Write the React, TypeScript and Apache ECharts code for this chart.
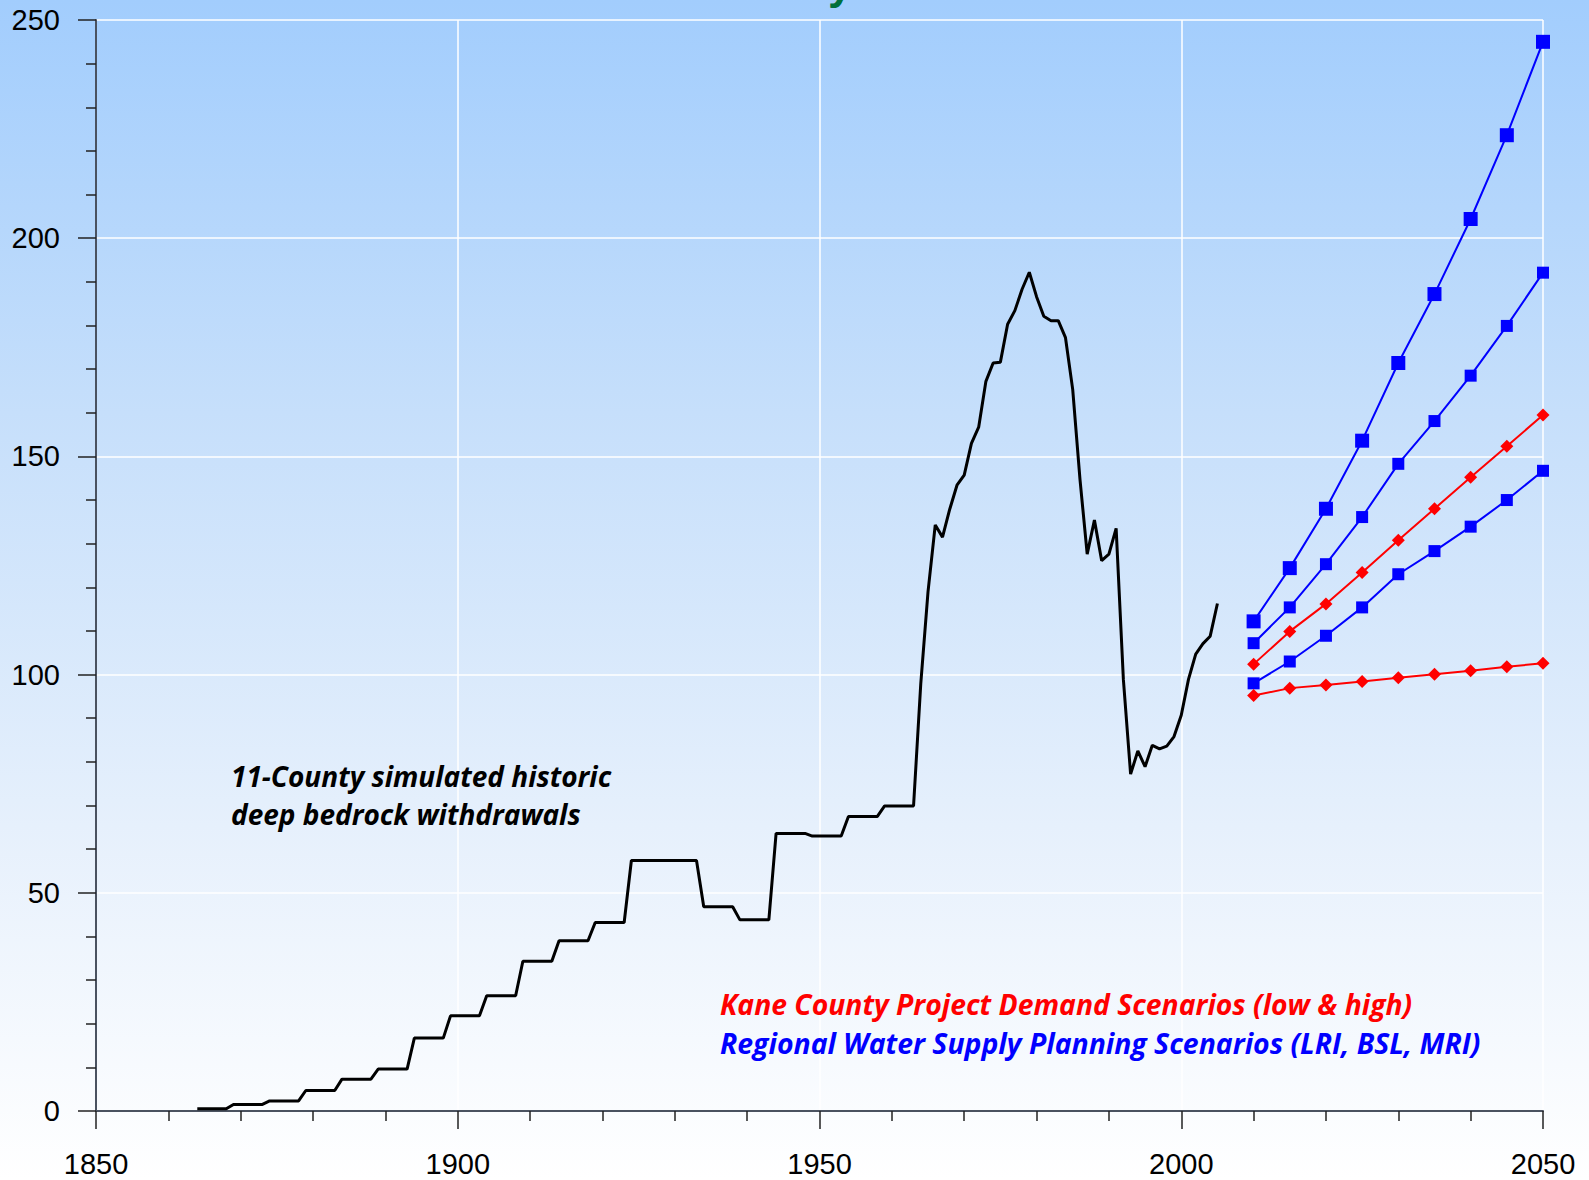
import React, { useEffect, useRef } from "react";
import * as echarts from "echarts";

// ---------- data ----------
const historicYears: number[] = [
  1864, 1865, 1866, 1867, 1868, 1869, 1870, 1871, 1872, 1873,
  1874, 1875, 1876, 1877, 1878, 1879, 1880, 1881, 1882, 1883,
  1884, 1885, 1886, 1887, 1888, 1889, 1890, 1891, 1892, 1893,
  1894, 1895, 1896, 1897, 1898, 1899, 1900, 1901, 1902, 1903,
  1904, 1905, 1906, 1907, 1908, 1909, 1910, 1911, 1912, 1913,
  1914, 1915, 1916, 1917, 1918, 1919, 1920, 1921, 1922, 1923,
  1924, 1925, 1926, 1927, 1928, 1929, 1930, 1931, 1932, 1933,
  1934, 1935, 1936, 1937, 1938, 1939, 1940, 1941, 1942, 1943,
  1944, 1945, 1946, 1947, 1948, 1949, 1950, 1951, 1952, 1953,
  1954, 1955, 1956, 1957, 1958, 1959, 1960, 1961, 1962, 1963,
  1964, 1965, 1966, 1967, 1968, 1969, 1970, 1971, 1972, 1973,
  1974, 1975, 1976, 1977, 1978, 1979, 1980, 1981, 1982, 1983,
  1984, 1985, 1986, 1987, 1988, 1989, 1990, 1991, 1992, 1993,
  1994, 1995, 1996, 1997, 1998, 1999, 2000, 2001, 2002, 2003,
  2004, 2005,
];
const historicValues: number[] = [
  0.5, 0.5, 0.5, 0.5, 0.5, 1.5, 1.5, 1.5, 1.5, 1.5,
  2.3, 2.3, 2.3, 2.3, 2.3, 4.7, 4.7, 4.7, 4.7, 4.7,
  7.3, 7.3, 7.3, 7.3, 7.3, 9.6, 9.6, 9.6, 9.6, 9.6,
  16.7, 16.7, 16.7, 16.7, 16.7, 21.8, 21.8, 21.8, 21.8, 21.8,
  26.4, 26.4, 26.4, 26.4, 26.4, 34.3, 34.3, 34.3, 34.3, 34.3,
  39.0, 39.0, 39.0, 39.0, 39.0, 43.2, 43.2, 43.2, 43.2, 43.2,
  57.4, 57.4, 57.4, 57.4, 57.4, 57.4, 57.4, 57.4, 57.4, 57.4,
  46.8, 46.8, 46.8, 46.8, 46.8, 43.8, 43.8, 43.8, 43.8, 43.8,
  63.6, 63.6, 63.6, 63.6, 63.6, 63.0, 63.0, 63.0, 63.0, 63.0,
  67.5, 67.5, 67.5, 67.5, 67.5, 69.9, 69.9, 69.9, 69.9, 69.9,
  98.0, 119.0, 134.3, 131.5, 137.9, 143.4, 145.7, 153.0, 156.7, 167.2,
  171.4, 171.6, 180.3, 183.4, 188.3, 192.2, 186.6, 182.1, 181.1, 181.1,
  177.2, 165.3, 144.8, 127.6, 135.4, 126.1, 127.6, 133.5, 98.9, 77.2,
  82.5, 78.9, 83.8, 83.0, 83.6, 85.8, 90.7, 98.9, 104.7, 107.1,
  108.8, 116.3,
];

const projectionYears: number[] = [2010, 2015, 2020, 2025, 2030, 2035, 2040, 2045, 2050];
const rwspMRI: number[] = [112.2, 124.4, 138.0, 153.6, 171.4, 187.2, 204.4, 223.6, 245.0];
const rwspBSL: number[] = [107.2, 115.4, 125.3, 136.1, 148.3, 158.1, 168.5, 179.9, 192.1];
const rwspLRI: number[] = [98.0, 103.0, 108.9, 115.4, 123.0, 128.3, 133.9, 140.0, 146.7];
const kaneHigh: number[] = [102.4, 109.9, 116.2, 123.4, 130.8, 138.0, 145.2, 152.3, 159.5];
const kaneLow: number[] = [95.2, 96.9, 97.6, 98.4, 99.3, 100.1, 100.9, 101.8, 102.6];

const xTickMin = 1850;
const xTickMax = 2050;
const yTickMin = 0;
const yTickMax = 250;

const historicLabel = ["11-County simulated historic", "deep bedrock withdrawals"];
const kaneLabel = "Kane County Project Demand Scenarios (low & high)";
const rwspLabel = "Regional Water Supply Planning Scenarios (LRI, BSL, MRI)";

// ---------- chart ----------
const pairs = (xs: number[], ys: number[]) => xs.map((x, i) => [x, ys[i]]);

const BLUE = "#0000FF";
const RED = "#FF0000";
const AXIS_FONT = '"Liberation Sans", Arial, sans-serif';
const NOTE_FONT = '"Open Sans", Lato, sans-serif';

export default function App() {
  const ref = useRef<HTMLDivElement>(null);

  useEffect(() => {
    document.body.style.margin = "0";
    if (!ref.current) return;
    const chart = echarts.init(ref.current, null, { renderer: "svg" });

    const axisCommon = {
      type: "value" as const,
      interval: 50,
      axisLine: { show: true, onZero: false, lineStyle: { color: "#4a5260", width: 2 } },
      axisTick: { show: true, inside: false, length: 18, lineStyle: { color: "#222", width: 1.5 } },
      minorTick: { show: true, splitNumber: 5, length: 10, lineStyle: { color: "#222", width: 1.5 } },
      splitLine: { show: true, lineStyle: { color: "#ffffff", width: 1.5 } },
      minorSplitLine: { show: false },
      axisLabel: {
        color: "#000",
        fontSize: 29,
        fontFamily: AXIS_FONT,
        formatter: (v: number) => String(v),
      },
    };

    const projSeries = (name: string, data: number[], color: string, symbol: string, size: number) => ({
      name,
      type: "line",
      data: pairs(projectionYears, data),
      symbol,
      symbolSize: size,
      showSymbol: true,
      lineStyle: { color, width: 2 },
      itemStyle: { color, borderWidth: 0 },
      z: 5,
    });

    const note = (text: string, x: number, y: number, fill: string, size: number) => ({
      type: "text",
      x,
      y,
      z: 100,
      style: {
        text,
        font: `italic bold ${size}px ${NOTE_FONT}`,
        fill,
        verticalAlign: "middle",
      },
    });

    chart.setOption({
      animation: false,
      backgroundColor: "transparent",
      grid: { left: 96, right: 46, top: 20, bottom: 69, containLabel: false },
      xAxis: {
        ...axisCommon,
        min: xTickMin,
        max: xTickMax,
        axisLabel: { ...axisCommon.axisLabel, margin: 38 },
      },
      yAxis: {
        ...axisCommon,
        min: yTickMin,
        max: yTickMax,
        axisLabel: { ...axisCommon.axisLabel, margin: 36 },
      },
      series: [
        {
          name: "Historic",
          type: "line",
          data: pairs(historicYears, historicValues),
          symbol: "none",
          lineStyle: { color: "#000", width: 3 },
          z: 4,
        },
        projSeries("MRI", rwspMRI, BLUE, "rect", 14),
        projSeries("BSL", rwspBSL, BLUE, "rect", 12),
        projSeries("LRI", rwspLRI, BLUE, "rect", 12),
        projSeries("Kane high", kaneHigh, RED, "diamond", 13),
        projSeries("Kane low", kaneLow, RED, "diamond", 13),
      ],
      graphic: [
        {
          type: "text",
          x: 828,
          y: -17,
          z: 100,
          style: {
            text: "y",
            font: 'bold 44px "Liberation Sans", Arial, sans-serif',
            fill: "#00703C",
            verticalAlign: "middle",
          },
        },
        note(historicLabel[0], 231, 776, "#000", 28),
        note(historicLabel[1], 231, 814, "#000", 28),
        note(kaneLabel, 720, 1004, RED, 28.3),
        note(rwspLabel, 720, 1043, BLUE, 28.4),
      ],
    });

    return () => chart.dispose();
  }, []);

  return (
    <div
      ref={ref}
      style={{
        width: 1589,
        height: 1180,
        background: "linear-gradient(to bottom, #A2CDFD 0%, #C6DFFB 35%, #E6F0FC 70%, #FFFFFF 100%)",
      }}
    />
  );
}
